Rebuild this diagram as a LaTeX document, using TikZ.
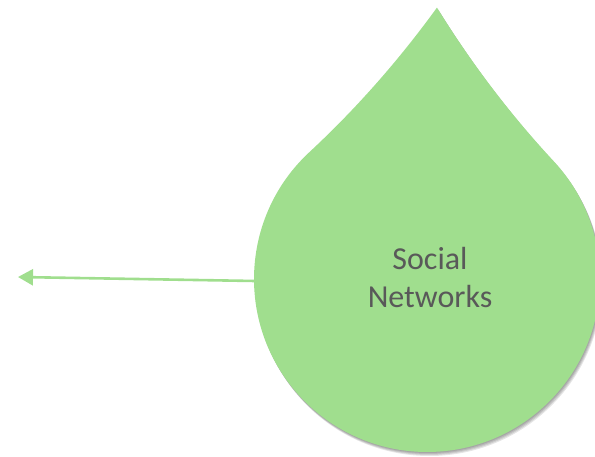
\documentclass[tikz,border=0pt]{standalone}
\usepackage{fontspec}
\setmainfont{Carlito}
\usetikzlibrary{arrows.meta}
\definecolor{dropgreen}{HTML}{A0DE8E}
\definecolor{textgray}{HTML}{595959}
\newcommand{\droppath}{(0,1) .. controls (0.37,1) and (0.74,1.037) .. (1.11,1.11)
  .. controls (1.037,0.74) and (1,0.37) .. (1,0)
  arc[start angle=0,end angle=-270,radius=1] -- cycle}

\begin{document}
\begin{tikzpicture}[x=1pt,y=1pt]
\clip (0,0) rectangle (595,456);
% soft shadow
\foreach \s in {1,2,3,4}
  \fill[black,opacity=.1,shift={(0.6*\s pt,-1*\s pt)}] [shift={(427pt,177pt)},rotate=42.9,x=173pt,y=173pt] \droppath;
\begin{scope}[shift={(427pt,177pt)},rotate=42.9,x=173pt,y=173pt]
\fill[dropgreen] \droppath;
\end{scope}
\draw (430,178) node[text=textgray,align=center,font=\fontsize{32}{38}\selectfont] (label) {Social\\Networks};
\coordinate (drop-w) at (255,175);
\coordinate (arrow-end) at (18,179);
\draw[dropgreen,line width=2.6pt,-{Triangle[length=15pt,width=16pt]}] (drop-w) -- (arrow-end);
\end{tikzpicture}
\end{document}
